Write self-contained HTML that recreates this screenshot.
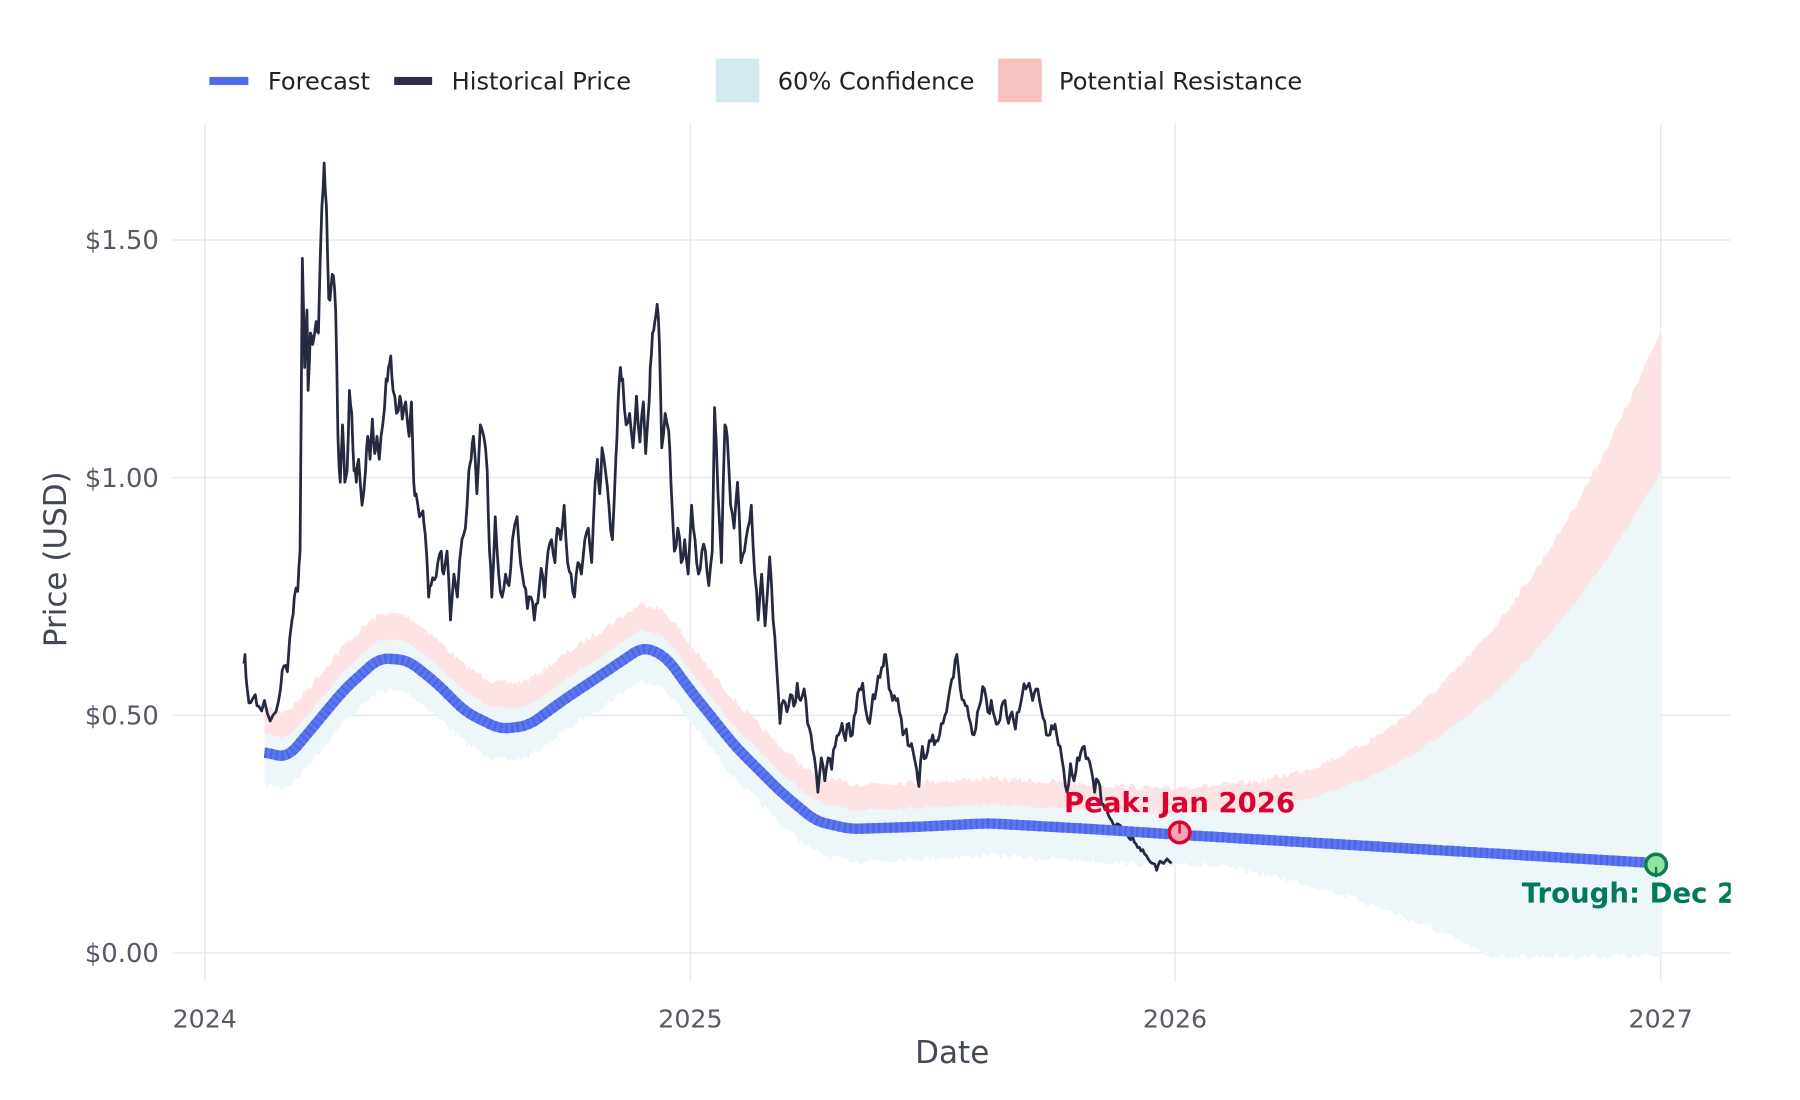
<!DOCTYPE html>
<html><head><meta charset="utf-8"><style>
html,body{margin:0;padding:0;background:#fff;}
svg{display:block;font-family:"DejaVu Sans","Liberation Sans",sans-serif;}
</style></head><body>
<svg id="s" width="1800" height="1100" viewBox="0 0 1567 958" xmlns="http://www.w3.org/2000/svg">
<defs><clipPath id="pc"><rect x="140" y="100" width="1367" height="760"/></clipPath></defs>
<g stroke="#e8eaee" stroke-width="1.3">
<line x1="178" y1="107" x2="178" y2="855"/><line x1="601" y1="107" x2="601" y2="855"/>
<line x1="1023" y1="107" x2="1023" y2="855"/><line x1="1446" y1="107" x2="1446" y2="855"/>
<line x1="150" y1="209" x2="1507" y2="209"/><line x1="150" y1="416" x2="1507" y2="416"/>
<line x1="150" y1="623" x2="1507" y2="623"/><line x1="150" y1="830" x2="1507" y2="830"/>
</g>
<g font-size="22.5" fill="#555a66" text-anchor="end">
<text x="138" y="217">$1.50</text><text x="138" y="424">$1.00</text>
<text x="138" y="631">$0.50</text><text x="138" y="838">$0.00</text>
</g>
<g font-size="22" fill="#555a66" text-anchor="middle">
<text x="178" y="895">2024</text><text x="601" y="895">2025</text>
<text x="1023" y="895">2026</text><text x="1446" y="895">2027</text>
</g>
<text x="829" y="926" font-size="27" fill="#444a55" text-anchor="middle">Date</text>
<text transform="translate(57,487) rotate(-90)" font-size="27" fill="#444a55" text-anchor="middle">Price (USD)</text>
<g font-size="21" fill="#222">
<rect x="182" y="67" width="34" height="7" fill="#4f6bed"/><text x="233" y="78">Forecast</text>
<rect x="343" y="67" width="33" height="7" fill="#2a2d45"/><text x="393" y="78">Historical Price</text>
<rect x="623" y="51" width="38" height="38" fill="#d2e9f0"/><text x="677" y="78">60% Confidence</text>
<rect x="869" y="51" width="38" height="38" fill="#f8c2c0"/><text x="922" y="78">Potential Resistance</text>
</g>
<g id="plot" clip-path="url(#pc)"></g>
<circle cx="1027" cy="725" r="9" fill="#f6a5b4" stroke="#e0002b" stroke-width="3"/>
<line x1="1027" y1="717" x2="1027" y2="726" stroke="#e0002b" stroke-width="2"/>
<text x="1027" y="707" font-size="24" font-weight="bold" fill="#dc0030" text-anchor="middle">Peak: Jan 2026</text>
<circle cx="1442" cy="753" r="9" fill="#8fe39a" stroke="#117a4e" stroke-width="3"/>
<line x1="1442" y1="755" x2="1442" y2="764" stroke="#117a4e" stroke-width="2"/>
<g clip-path="url(#pc)"><text x="1325" y="786" font-size="24" font-weight="bold" fill="#007a5a">Trough: Dec 2026</text></g>
</svg>
<script>
(function(){
var g=document.getElementById('plot');var NS='http://www.w3.org/2000/svg';
function interp(pts,x){if(x<=pts[0][0])return pts[0][1];for(var i=1;i<pts.length;i++){if(x<=pts[i][0]){var a=pts[i-1],b=pts[i];var t=(x-a[0])/(b[0]-a[0]);return a[1]+(b[1]-a[1])*t;}}return pts[pts.length-1][1];}
function smooth(pts,x){var s=0,n=0;for(var d=-8;d<=8;d+=2){s+=interp(pts,x+d);n++;}return s/n;}
var seed=7;function rnd(){seed=(seed*16807)%2147483647;return seed/2147483647;}
var F=[[218,655],[230,655],[250,660],[275,630],[300,600],[330,573],[355,575],[380,595],[405,620],[435,635],[460,632],[490,610],[520,590],[560,563],[580,572],[600,600],[640,650],[680,690],[710,715],[740,722],[800,720],[860,717],[950,722],[1027,727],[1446,752],[1460,753]];
function add(d,fill,stroke,sw,dash){var p=document.createElementNS(NS,'path');p.setAttribute('d',d);p.setAttribute('fill',fill);if(stroke){p.setAttribute('stroke',stroke);p.setAttribute('stroke-width',sw);p.setAttribute('stroke-linejoin','round');if(dash)p.setAttribute('stroke-dasharray',dash);}g.appendChild(p);}
var up=[],pt=[],lo=[];
for(var x=230;x<=1446;x+=2){var f=smooth(F,x);var cu,ptop,cl;
 if(x<=1023){cu=f-18;ptop=f-42;cl=f+25;}
 else{var t=(x-1023)/423;var k=Math.pow(t,2.5);cu=Math.min(f-18,705-295*k);ptop=682-397*k;cl=Math.min(830,748+30*t+150*t*t);}
 var j=rnd()*6;up.push([x,cu+j*0.5]);pt.push([x,ptop+j]);lo.push([x,cl+j]);}
function band(a,b){var d='M'+a.map(function(p){return p[0]+','+p[1].toFixed(1)}).join('L');for(var i=b.length-1;i>=0;i--)d+='L'+b[i][0]+','+b[i][1].toFixed(1);return d+'Z';}
add(band(pt,up),'#fde3e3');
add(band(up,lo),'#edf6f9');
var H=[[212,578],[213,570],[215,600],[218,612],[222,605],[225,615],[230,610],[235,628],[240,620],[244,600],[247,580],[250,585],[254,540],[256,520],[259,515],[261,480],[263,225],[265,320],[267,270],[268,340],[270,290],[272,300],[275,280],[277,290],[280,180],[282,142],[284,180],[286,260],[288,250],[290,240],[292,270],[294,380],[296,420],[298,370],[300,420],[302,410],[304,340],[306,360],[308,410],[310,420],[312,400],[315,440],[318,410],[320,380],[322,400],[324,365],[326,395],[328,380],[330,400],[333,370],[336,330],[338,320],[340,310],[342,340],[345,360],[348,345],[350,365],[353,350],[356,380],[358,350],[360,420],[362,430],[365,450],[368,445],[370,465],[373,520],[375,510],[378,505],[381,490],[384,480],[386,500],[389,480],[392,540],[395,500],[398,520],[402,470],[405,460],[408,410],[410,400],[412,380],[415,430],[418,370],[421,380],[424,410],[426,480],[428,520],[431,450],[434,500],[437,520],[440,500],[443,510],[446,470],[450,450],[453,490],[456,510],[459,530],[462,520],[465,540],[468,525],[471,495],[474,520],[477,480],[480,470],[483,490],[485,460],[488,470],[491,440],[494,490],[497,500],[500,520],[503,490],[506,500],[509,470],[512,460],[515,490],[518,420],[520,400],[522,430],[524,390],[527,410],[530,440],[533,470],[536,400],[538,350],[540,320],[542,330],[545,370],[548,360],[551,390],[554,345],[557,385],[560,350],[562,395],[565,350],[566,320],[568,290],[570,280],[572,265],[574,300],[576,390],[579,360],[582,375],[584,420],[587,480],[590,460],[593,490],[596,470],[599,500],[602,440],[605,470],[608,500],[611,480],[614,480],[617,510],[620,480],[622,355],[625,430],[628,490],[631,370],[633,380],[636,440],[639,460],[642,420],[645,490],[648,480],[651,460],[654,440],[657,500],[660,540],[663,500],[666,545],[670,485],[673,540],[676,580],[679,630],[682,610],[685,620],[688,605],[691,615],[694,595],[697,610],[700,600],[703,630],[706,640],[709,660],[712,690],[715,660],[718,680],[721,660],[724,670],[727,650],[730,640],[733,630],[736,645],[739,630],[742,640],[745,620],[748,600],[751,595],[754,620],[757,630],[760,605],[763,600],[766,590],[769,580],[771,570],[774,600],[777,610],[780,610],[783,620],[786,640],[789,635],[792,650],[795,655],[798,670],[800,685],[803,650],[806,660],[809,645],[812,640],[815,645],[818,640],[821,630],[824,620],[827,600],[830,590],[833,570],[836,600],[839,610],[842,615],[845,630],[848,640],[851,620],[854,610],[857,600],[860,620],[863,610],[866,625],[869,630],[872,615],[875,610],[878,630],[881,620],[884,635],[887,620],[890,605],[893,600],[896,595],[899,610],[902,600],[905,610],[908,625],[911,640],[914,640],[917,635],[920,640],[923,650],[926,670],[929,690],[932,665],[935,680],[938,660],[941,655],[944,650],[947,660],[950,670],[953,690],[956,680],[959,700],[962,705],[965,710],[968,715],[971,720],[974,718],[977,725],[980,722],[983,730],[986,728],[989,735],[992,738],[995,740],[998,745],[1001,750],[1004,752],[1007,758],[1010,750],[1013,752],[1016,748],[1020,752]];
var HH=[];for(var i=0;i<H.length;i++){HH.push(H[i]);if(i<H.length-1){var a=H[i],b=H[i+1];var mx=(a[0]+b[0])/2,my=(a[1]+b[1])/2;var amp=(a[1]<700)?14:5;HH.push([mx,my+(rnd()-0.5)*amp]);}}
add('M'+HH.map(function(p){return p[0]+','+p[1].toFixed(1)}).join('L'),'none','#262a40',2.4);
var fd='';for(var x=230;x<=1446;x+=2){fd+=(x==230?'M':'L')+x+','+smooth(F,x).toFixed(1);}
add(fd,'none','#5b77ef',9);
add(fd,'none','#4c66e6',9,'2 3');
})();
</script>
</body></html>
